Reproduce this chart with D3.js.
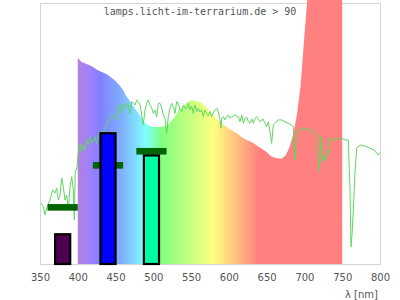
<!DOCTYPE html>
<html><head><meta charset="utf-8">
<script src="https://cdn.jsdelivr.net/npm/d3@7"></script>
<style>html,body{margin:0;padding:0;background:#fff;}svg{display:block;}</style>
</head><body>
<svg id="c" width="400" height="300"></svg>
<script>
const titleText = "lamps.licht-im-terrarium.de > 90";
const axisLabel = "λ [nm]";
const xTicks = [350,400,450,500,550,600,650,700,750,800];

// lamp spectrum (relative)
const specNm = [400,405,410,415,420,425,430,435,440,445,450,455,460,465,470,475,480,485,490,495,500,505,510,515,520,525,530,535,540,545,550,555,560,565,570,575,580,585,590,595,600,605,610,615,620,625,630,635,640,645,650,655,660,665,670,675,680,685,690,695,700,705,710,720,730,740,750];
const specVal = [78.9,77.4,76.8,76.2,75.5,74.5,73.8,73.2,72.4,71.3,70.1,68.6,66.7,64.0,62.1,59.8,57.9,55.9,53.6,52.9,52.5,52.5,52.5,52.7,53.6,55.2,57.1,59.4,60.5,61.9,62.8,62.5,62.3,61.5,60.2,58.6,56.9,55.4,54.0,52.9,51.9,51.1,50.2,49.0,48.1,47.3,46.7,45.8,44.8,43.9,42.9,41.4,40.8,40.4,40.4,41.6,44.6,49.4,57.1,68.6,87.7,105.7,115,125,130,128,125];

// reference curve
const refNm = [351.3,354.4,356.6,358.9,363.2,366.8,369.9,372.1,374.2,376.5,378.7,380.8,383.1,385.3,387.5,389.7,392.0,394.1,395.4,396.7,398.6,400.7,402.9,405.2,407.3,409.6,411.8,413.9,416.2,418.4,420.5,422.8,425.0,427.2,429.4,433.4,438.3,442.6,446.6,451.5,453.6,455.9,458.1,460.2,462.5,464.7,466.9,469.1,471.4,473.5,475.7,478.0,480.1,482.4,484.6,486.7,489.0,491.2,493.3,495.6,497.8,500.0,502.2,504.5,506.6,508.8,511.1,513.2,515.4,517.7,519.8,522.1,524.3,526.4,528.7,530.9,533.0,535.3,537.5,539.7,541.9,544.2,546.3,548.5,550.8,552.9,555.1,557.4,559.5,561.8,564.0,566.1,568.4,570.6,572.7,575.0,577.2,579.4,581.6,583.9,586.0,588.2,589.6,590.5,592.6,594.9,597.1,599.2,601.5,603.7,608.1,612.5,614.7,617.0,619.1,621.3,623.6,625.7,627.9,630.2,632.3,634.6,636.8,638.9,641.2,645.1,647.8,650.0,652.2,654.4,656.6,658.8,661.0,665.4,669.9,674.3,678.6,683.1,685.2,686.4,687.5,689.7,691.9,694.1,696.4,700.7,705.1,709.6,711.7,714.0,716.2,718.3,719.7,721.9,724.2,726.3,728.2,729.9,731.6,733.8,736.1,738.2,740.4,744.8,749.3,753.7,758.0,760.3,761.6,762.9,764.7,766.9,769.1,773.5,780.1,786.8,792.1,795.6,797.4,800];
const refVal = [23.3,22.0,18.8,21.5,24.5,28.4,27.2,29.1,24.5,26.4,33.0,29.6,24.5,26.4,20.7,29.6,33.4,28.4,16.9,36.0,36.0,43.0,46.2,43.0,45.6,43.7,47.5,45.6,48.8,46.4,47.5,48.7,46.2,49.4,50.6,50.6,53.3,55.9,57.1,55.2,60.3,61.3,57.7,60.9,59.8,61.6,60.9,57.7,62.2,61.6,60.9,62.8,62.2,60.9,57.1,53.3,59.0,61.6,62.8,60.9,59.8,57.7,59.0,56.4,61.6,61.6,59.8,57.1,55.8,50.1,56.4,59.7,61.6,60.3,57.7,62.2,61.6,59.0,58.4,60.9,59.8,59.7,61.6,59.0,60.5,57.7,60.9,58.4,59.7,58.2,59.0,56.4,59.0,57.7,56.7,58.4,56.4,57.9,59.0,59.7,58.4,55.2,52.0,55.8,56.4,55.2,56.4,57.1,55.9,56.4,57.1,56.4,54.5,57.1,53.9,55.8,56.3,54.5,53.9,55.6,53.9,55.8,56.4,55.6,54.5,55.6,53.9,52.6,54.5,50.7,46.2,53.3,53.9,55.2,55.2,54.5,53.9,53.3,52.6,43.7,39.8,49.4,51.3,51.0,52.0,51.3,52.0,51.3,50.7,50.1,49.8,40.5,35.4,48.8,39.2,41.8,39.8,43.7,42.4,48.2,46.9,48.2,47.5,48.2,48.2,47.5,47.5,28.4,6.6,11.1,20.7,34.9,44.3,45.6,45.2,44.3,43.7,42.5,41.8,42.6];

// bars and markers
const barFrom = [370,430,487.5];
const barTo = [390,450,507.5];
const barVal = [11.4,50.1,41.6];
const barColors = ["#4d0050","#0000ff","#00ffa4"];
const markFrom = [360,420,477.5];
const markTo = [400,460,517.5];
const markVal = [21.7,37.8,43.2];

// spectrum gradient stops
const gradNm = [400,415,430,460,490,510,545,580,640,750];
const gradColors = ["#b480dc","#a080ff","#8080ff","#80b4ff","#80ffff","#80ff80","#c0ff80","#ffff80","#ff8080","#ff8080"];

const svg = d3.select("#c");
const x = d3.scaleLinear().domain([350,800]).range([40,380]);
const y = d3.scaleLinear().domain([0,100]).range([264,3]);

// border
svg.append("rect").attr("x",40.5).attr("y",3.5).attr("width",340).attr("height",261)
  .attr("fill","none").attr("stroke","#d4d4d4").attr("stroke-width",1);

// gradient
const defs = svg.append("defs");
const g = defs.append("linearGradient").attr("id","rb").attr("gradientUnits","userSpaceOnUse")
  .attr("x1",x(gradNm[0])).attr("x2",x(gradNm[gradNm.length-1])).attr("y1",0).attr("y2",0);
const span = gradNm[gradNm.length-1]-gradNm[0];
gradNm.forEach((n,i)=>g.append("stop").attr("offset",(n-gradNm[0])/span).attr("stop-color",gradColors[i]));

const spec = specNm.map((n,i)=>({n, v:specVal[i]}));
svg.append("path").datum(spec)
  .attr("d", d3.area().x(d=>x(d.n)).y0(264).y1(d=>y(d.v)))
  .attr("fill","url(#rb)");

const ref = refNm.map((n,i)=>({n, v:refVal[i]}));
svg.append("path").datum(ref)
  .attr("d", d3.line().x(d=>x(d.n)).y(d=>y(d.v)))
  .attr("fill","none").attr("stroke","#5fd85f").attr("stroke-width",1);

// markers
svg.selectAll("rect.mk").data(markVal).enter().append("rect").attr("class","mk")
  .attr("x",(d,i)=>x(markFrom[i])).attr("width",(d,i)=>x(markTo[i])-x(markFrom[i]))
  .attr("y",d=>y(d)-3.3).attr("height",6.6).attr("fill","#006400");

// bars
svg.selectAll("rect.bar").data(barVal).enter().append("rect").attr("class","bar")
  .attr("x",(d,i)=>x(barFrom[i])).attr("width",(d,i)=>x(barTo[i])-x(barFrom[i]))
  .attr("y",d=>y(d)).attr("height",d=>264-y(d))
  .attr("fill",(d,i)=>barColors[i]).attr("stroke","#000").attr("stroke-width",2.2);

// axis
const ax = svg.append("g").attr("transform","translate(0,264)")
  .call(d3.axisBottom(x).tickValues(xTicks).tickSize(0).tickPadding(10).tickFormat(d3.format("d")));
ax.select(".domain").remove();
ax.selectAll("text").attr("font-family","DejaVu Sans").attr("font-size",10).attr("fill","#555");

svg.append("text").attr("x",378).attr("y",298).attr("text-anchor","end")
  .attr("font-family","DejaVu Sans").attr("font-size",10).attr("fill","#555").text(axisLabel);

svg.append("text").attr("x",200).attr("y",15).attr("text-anchor","middle")
  .attr("font-family","DejaVu Sans Mono").attr("font-size",10).attr("fill","#555").text(titleText);
</script>
</body></html>
